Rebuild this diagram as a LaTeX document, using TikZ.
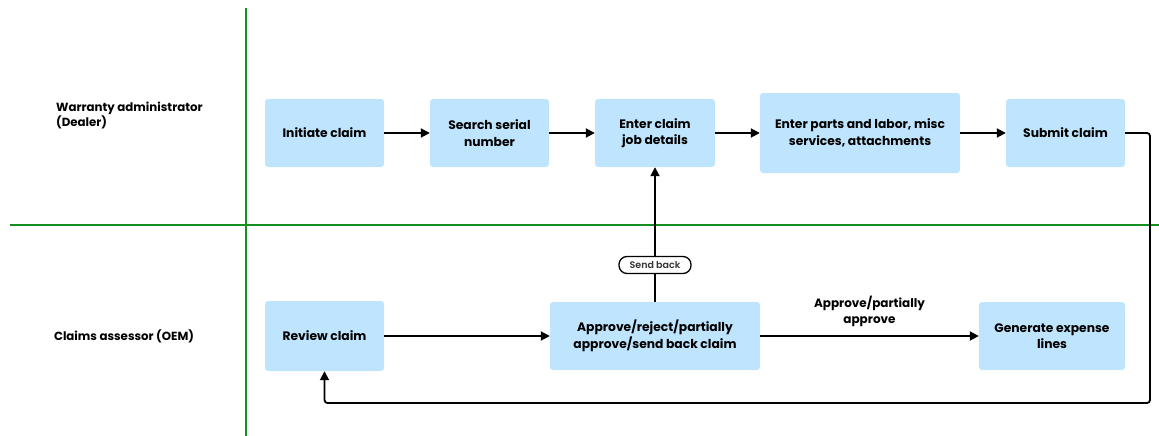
\documentclass[tikz,border=0pt]{standalone}
\usepackage{fontspec}
\setmainfont{Poppins}
\newfontfamily\semib{Poppins SemiBold}
\usetikzlibrary{arrows.meta}
\definecolor{boxblue}{HTML}{BEE5FD}
\definecolor{lanegreen}{HTML}{178F1E}
\tikzset{
  stepbox/.style={fill=boxblue, draw=none, rounded corners=3pt, align=center,
    font=\fontsize{12.3}{16.5}\selectfont\bfseries, inner sep=0pt},
  lane/.style={draw=lanegreen, line width=2pt},
  flow/.style={draw=black, line width=1.8pt, -{Triangle[length=9pt,width=9pt]}},
  pill/.style={draw=black, line width=1.3pt, rounded corners=8pt, fill=white,
    font=\fontsize{9.5}{11}\selectfont\semib\color{black!80}, inner sep=0pt,
    minimum width=72pt, minimum height=17pt},
  lanelabel/.style={font=\fontsize{11.8}{15}\selectfont\bfseries, align=left},
  edgelabel/.style={font=\fontsize{12}{16}\selectfont\bfseries, align=center}
}
\begin{document}
\begin{tikzpicture}[x=1pt, y=-1pt]
\useasboundingbox (0,0) rectangle (1159,436);
% swimlane lines
\draw[lane] (246,8) -- (246,436);
\draw[lane] (10,225) -- (1159,225);
% lane labels
\node[lanelabel, anchor=west, inner sep=0pt] (lane1) at (56,116) {Warranty administrator\\(Dealer)};
\node[lanelabel] (lane2) at (124,336) {Claims assessor (OEM)};
% boxes
\node[stepbox, minimum width=119pt, minimum height=68pt] (init) at (324.5,133) {Initiate claim};
\node[stepbox, minimum width=119pt, minimum height=68pt] (search) at (489.5,133) {Search serial\\number};
\node[stepbox, minimum width=120pt, minimum height=68pt] (enter) at (655,133) {Enter claim\\job details};
\node[stepbox, minimum width=200pt, minimum height=80pt] (parts) at (860,133) {Enter parts and labor, misc\\services, attachments};
\node[stepbox, minimum width=119pt, minimum height=68pt] (submit) at (1065.5,133) {Submit claim};
\node[stepbox, minimum width=119pt, minimum height=70pt] (review) at (324.5,336) {Review claim};
\node[stepbox, minimum width=210pt, minimum height=68pt] (approve) at (655,336) {Approve/reject/partially\\approve/send back claim};
\node[stepbox, minimum width=146pt, minimum height=68pt] (gen) at (1052,336) {Generate expense\\lines};
% connectors
\draw[flow] (init) -- (search);
\draw[flow] (search) -- (enter);
\draw[flow] (enter) -- (parts);
\draw[flow] (parts) -- (submit);
\draw[flow] (review) -- (approve);
\draw[flow] (approve) -- node[edgelabel, above=5pt] (applabel) {Approve/partially\\approve} (gen);
\draw[flow] (approve.north) -- (enter.south);
\node[pill] (sendback) at (655,265) {Send back};
\coordinate (c1) at (1150,133);
\coordinate (c2) at (1150,403);
\coordinate (c3) at (324.5,403);
\draw[flow, rounded corners=3pt] (submit.east) -- (c1) -- (c2) -- (c3) -- (review.south);
\end{tikzpicture}
\end{document}
